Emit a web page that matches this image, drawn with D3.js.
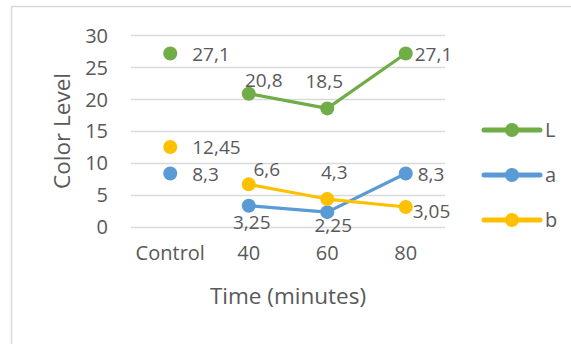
<!DOCTYPE html>
<html>
<head>
<meta charset="utf-8">
<script src="https://cdn.jsdelivr.net/npm/d3@7"></script>
<style>
  html, body { margin: 0; padding: 0; background: #fff; }
  svg { display: block; }
  text { font-family: "Open Sans", "Noto Sans", sans-serif; fill: #595959; }
</style>
</head>
<body>
<svg id="chart" width="571" height="344"></svg>
<script>
// Colour measurements by heating time
const categories = ["Control", "40", "60", "80"];
const seriesNames = ["L", "a", "b"];
const valuesL = [27.1, 20.8, 18.5, 27.1];
const valuesA = [8.3, 3.25, 2.25, 8.3];
const valuesB = [12.45, 6.6, 4.3, 3.05];
const yTicks = [0, 5, 10, 15, 20, 25, 30];

const colors = { L: "#70AD47", a: "#5B9BD5", b: "#FFC000" };

// Where each data label sits relative to its marker: [dx, dy, anchor]
const labelPlacement = {
  L: [[22, 7, "start"], [15, -7, "middle"], [-3, -20, "middle"], [9, 7, "start"]],
  a: [[22, 7, "start"], [3, 23, "middle"], [6, 20, "middle"], [12, 7, "start"]],
  b: [[22, 7, "start"], [18, -8, "middle"], [7, -20, "middle"], [7, 11, "start"]]
};

const series = [
  { name: "L", values: valuesL },
  { name: "a", values: valuesA },
  { name: "b", values: valuesB }
];

const svg = d3.select("#chart");

// chart frame
svg.append("rect")
  .attr("x", 11.5).attr("y", 6.5)
  .attr("width", 700).attr("height", 500)
  .attr("fill", "none").attr("stroke", "#D9D9D9").attr("stroke-width", 1.5);

const plot = { left: 131, right: 445, top: 35, bottom: 226.5 };

const x = d3.scaleBand().domain(categories).range([plot.left, plot.right]).padding(0);
const y = d3.scaleLinear().domain([0, 30]).range([plot.bottom, plot.top]);
const cx = c => x(c) + x.bandwidth() / 2;

// gridlines
svg.append("g").selectAll("line").data(yTicks).join("line")
  .attr("x1", plot.left).attr("x2", plot.right)
  .attr("y1", d => Math.round(y(d)) + 0.5).attr("y2", d => Math.round(y(d)) + 0.5)
  .attr("stroke", "#D9D9D9").attr("stroke-width", 1.5);

// y axis labels
const yAxis = d3.axisLeft(y).tickValues(yTicks).tickSize(0).tickPadding(0).tickFormat(d3.format("d"));
const yg = svg.append("g").attr("transform", `translate(${plot.left - 23},0)`).call(yAxis);
yg.select(".domain").remove();
yg.selectAll("text").attr("font-size", 20).attr("fill", "#595959")
  .attr("font-family", "Open Sans").attr("dy", "0.36em");

// x axis labels
const xAxis = d3.axisBottom(x).tickSize(0).tickPadding(0);
const xg = svg.append("g").attr("transform", `translate(0,${plot.bottom + 19})`).call(xAxis);
xg.select(".domain").remove();
xg.selectAll("text").attr("font-size", 20).attr("fill", "#595959")
  .attr("font-family", "Open Sans").attr("dy", "0.71em");

// axis titles
svg.append("text")
  .attr("x", 288).attr("y", 304)
  .attr("text-anchor", "middle").attr("font-size", 22.5)
  .text("Time (minutes)");

svg.append("text")
  .attr("transform", "translate(70,131) rotate(-90)")
  .attr("text-anchor", "middle").attr("font-size", 22.5)
  .text("Color Level");

// series lines (Control point stands alone)
const line = d3.line()
  .defined((d, i) => i > 0)
  .x((d, i) => cx(categories[i]))
  .y(d => y(d));

const fmt = v => String(v).replace(".", ",");

series.forEach(s => {
  const g = svg.append("g");
  g.append("path")
    .attr("d", line(s.values))
    .attr("fill", "none").attr("stroke", colors[s.name])
    .attr("stroke-width", 3.2).attr("stroke-linejoin", "round");
  g.selectAll("circle").data(s.values).join("circle")
    .attr("cx", (d, i) => cx(categories[i]))
    .attr("cy", d => y(d))
    .attr("r", 7)
    .attr("fill", colors[s.name]);
});

// data labels
series.forEach(s => {
  svg.append("g").selectAll("text").data(s.values).join("text")
    .attr("x", (d, i) => cx(categories[i]) + labelPlacement[s.name][i][0])
    .attr("y", (d, i) => y(d) + labelPlacement[s.name][i][1])
    .attr("text-anchor", (d, i) => labelPlacement[s.name][i][2])
    .attr("font-size", 19)
    .text(d => fmt(d));
});

// legend
const legend = svg.append("g");
const legendY = d3.scalePoint().domain(seriesNames).range([130, 220]);
seriesNames.forEach(n => {
  const ly = legendY(n);
  legend.append("line")
    .attr("x1", 484).attr("x2", 540).attr("y1", ly).attr("y2", ly)
    .attr("stroke", colors[n]).attr("stroke-width", 5).attr("stroke-linecap", "round");
  legend.append("circle").attr("cx", 512).attr("cy", ly).attr("r", 7).attr("fill", colors[n]);
  legend.append("text").attr("x", 545).attr("y", ly + 7).attr("font-size", 20).text(n);
});
</script>
</body>
</html>
